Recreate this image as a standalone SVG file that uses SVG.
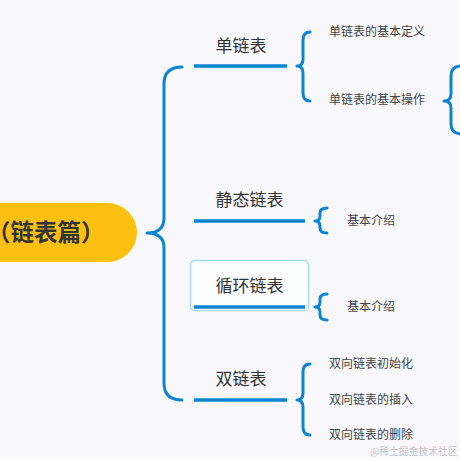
<svg xmlns="http://www.w3.org/2000/svg" width="460" height="460" viewBox="0 0 460 460">
<style>
.brace{fill:none;stroke:#0b85d1;stroke-width:3;stroke-linecap:round;stroke-linejoin:round}
.ul{stroke:#0b85d1;stroke-width:3.5;stroke-linecap:butt}
.t1{font-family:"Noto Sans CJK SC","Noto Sans",sans-serif;font-size:17px;fill:#333;text-anchor:middle}
.t2{font-family:"Noto Sans CJK SC","Noto Sans",sans-serif;font-size:12px;fill:#444}
</style>
<rect width="460" height="460" fill="#f9f9fd"/>
<g id="connectors">
<path class="brace" d="M182,67 Q164,67 164,84 V218 Q164,233 147,233 Q164,233 164,248 V383 Q164,400 182,400"/>
<path class="brace" d="M310,32 Q303,32 303,40 V59 Q303,66 297,66 Q303,66 303,73 V93 Q303,101 310,101"/>
<path class="brace" d="M462,66 Q451,66 451,76 V94 Q451,101 444,101 Q451,101 451,108 V124 Q451,134 462,134"/>
<path class="brace" d="M327,208 Q320,208 320,213 V216 Q320,221 315,221 Q320,221 320,226 V228 Q320,233 327,233"/>
<path class="brace" d="M327,294 Q320,294 320,299 V302 Q320,307 315,307 Q320,307 320,312 V315 Q320,320 327,320"/>
<path class="brace" d="M310,364 Q303,364 303,372 V393 Q303,400 297,400 Q303,400 303,407 V427 Q303,435 310,435"/>
</g>
<g id="root">
<rect x="-40" y="203" width="177" height="59" rx="29.5" fill="#fdc010"/>
<text x="-13" y="241" font-family="Noto Sans CJK SC,sans-serif" font-size="23.5" font-weight="bold" fill="#333">（链表篇）</text>
</g>
<g id="n-single">
<text class="t1" x="241" y="52">单链表</text>
<line class="ul" x1="194" y1="66" x2="287" y2="66"/>
</g>
<g id="n-single-def"><text class="t2" x="329" y="36">单链表的基本定义</text></g>
<g id="n-single-op"><text class="t2" x="329" y="104">单链表的基本操作</text></g>
<g id="n-static">
<text class="t1" x="249.5" y="206">静态链表</text>
<line class="ul" x1="194" y1="221" x2="305" y2="221"/>
</g>
<g id="n-static-intro"><text class="t2" x="347" y="225">基本介绍</text></g>
<g id="n-circular">
<rect x="190.5" y="260.5" width="118" height="50" rx="4" fill="#fbfdff" stroke="#a6dcfa" stroke-width="1.5"/>
<text class="t1" x="249.5" y="292">循环链表</text>
<line class="ul" x1="194" y1="307" x2="305" y2="307"/>
</g>
<g id="n-circular-intro"><text class="t2" x="347" y="311">基本介绍</text></g>
<g id="n-double">
<text class="t1" x="241" y="385">双链表</text>
<line class="ul" x1="194" y1="400" x2="287" y2="400"/>
</g>
<g id="n-double-init"><text class="t2" x="329" y="368">双向链表初始化</text></g>
<g id="n-double-ins"><text class="t2" x="329" y="404">双向链表的插入</text></g>
<g id="n-double-del"><text class="t2" x="329" y="439">双向链表的删除</text></g>
<text x="370" y="455" font-family="Noto Sans CJK SC,sans-serif" font-size="9.8" fill="#c4c4c8">@稀土掘金技术社区</text>
</svg>
